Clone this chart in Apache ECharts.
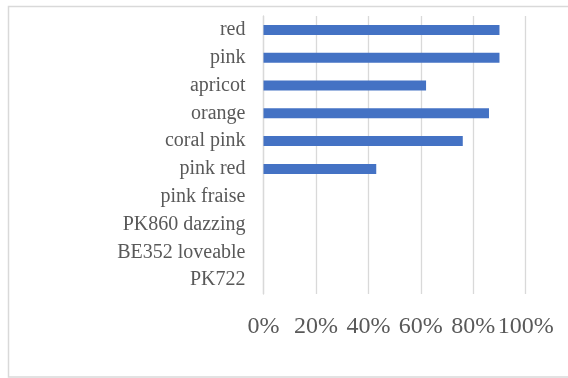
<!DOCTYPE html>
<html>
<head>
<meta charset="utf-8">
<script src="https://cdn.jsdelivr.net/npm/echarts@6/dist/echarts.min.js"></script>
<style>
  html, body { margin: 0; padding: 0; background: #fff; }
  #chart { width: 568px; height: 378px; }
</style>
</head>
<body>
<div id="chart"></div>
<script>
// Colour names, top to bottom
const categories = ['red', 'pink', 'apricot', 'orange', 'coral pink', 'pink red',
  'pink fraise', 'PK860 dazzing', 'BE352 loveable', 'PK722'];
// Share for each colour (fraction of 1)
const shares = [0.90, 0.90, 0.62, 0.86, 0.76, 0.43, 0, 0, 0, 0];
// Value axis ticks
const tickMin = 0;
const tickMax = 1;
const tickStep = 0.2;

const serif = '"Liberation Serif", "DejaVu Serif", serif';
const chart = echarts.init(document.getElementById('chart'), null, { renderer: 'canvas' });

chart.setOption({
  animation: false,
  backgroundColor: '#ffffff',
  graphic: [{
    type: 'rect',
    silent: true,
    shape: { x: 8.5, y: 6.5, width: 620, height: 370.5 },
    style: { fill: 'none', stroke: '#d9d9d9', lineWidth: 1.5 }
  }],
  grid: { left: 263.5, right: 42.3, top: 16, bottom: 84, containLabel: false },
  xAxis: {
    type: 'value',
    min: tickMin,
    max: tickMax,
    interval: tickStep,
    axisLine: { show: false },
    axisTick: { show: false },
    splitLine: { show: true, lineStyle: { color: '#d9d9d9', width: 1.3 } },
    axisLabel: {
      margin: 21,
      color: '#595959',
      fontFamily: serif,
      fontSize: 24,
      formatter: v => Math.round(v * 100) + '%'
    }
  },
  yAxis: {
    type: 'category',
    inverse: true,
    data: categories,
    axisLine: { show: true, lineStyle: { color: '#d9d9d9', width: 1.3 } },
    axisTick: { show: false },
    axisLabel: {
      margin: 18,
      color: '#595959',
      fontFamily: serif,
      fontSize: 20
    }
  },
  series: [{
    type: 'bar',
    data: shares,
    barWidth: 10,
    itemStyle: { color: '#4472c4' }
  }]
});
</script>
</body>
</html>
